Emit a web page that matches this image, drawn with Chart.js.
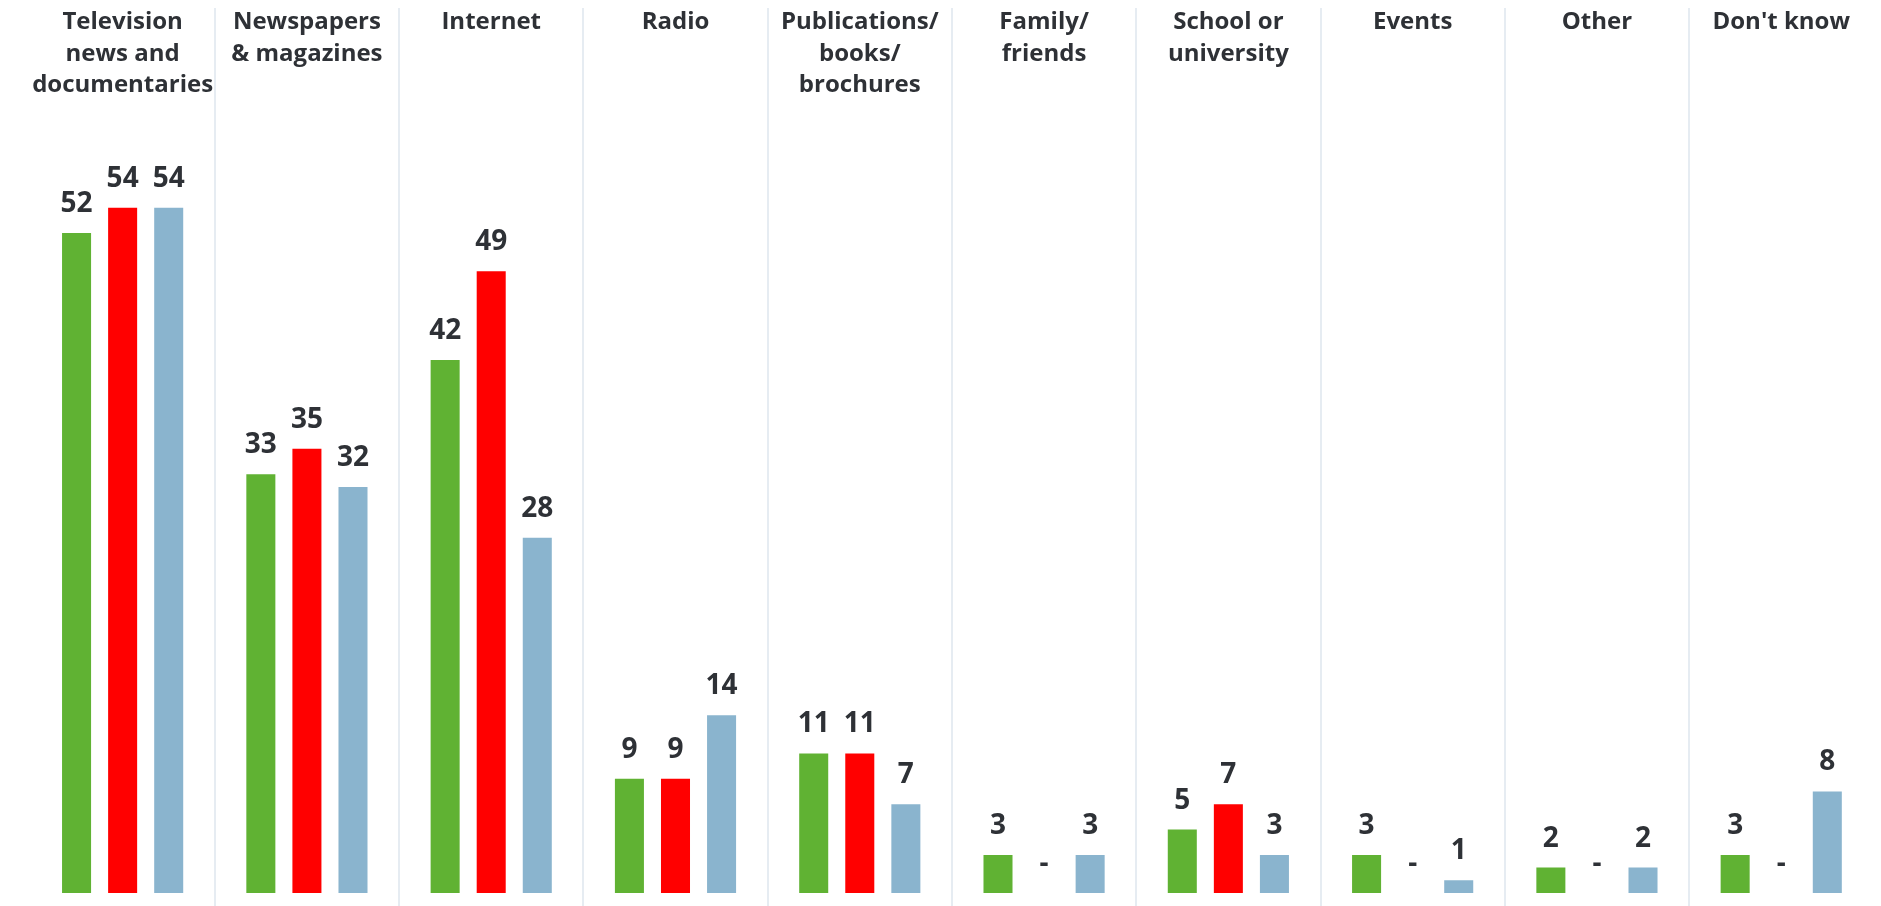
<!DOCTYPE html>
<html>
<head>
<meta charset="utf-8">
<script src="https://cdn.jsdelivr.net/npm/chart.js@4.4.1/dist/chart.umd.min.js"></script>
<style>
html,body{margin:0;padding:0;background:#ffffff;}
#wrap{width:1881px;height:906px;position:relative;}
</style>
</head>
<body>
<div id="wrap"><canvas id="c"></canvas></div>
<script>
const categories = [
  ["Television", "news and", "documentaries"],
  ["Newspapers", "& magazines"],
  ["Internet"],
  ["Radio"],
  ["Publications/", "books/", "brochures"],
  ["Family/", "friends"],
  ["School or", "university"],
  ["Events"],
  ["Other"],
  ["Don't know"]
];
const seriesNames = ["Series 1", "Series 2", "Series 3"];
const greenValues = [52, 33, 42, 9, 11, 3, 5, 3, 2, 3];
const redValues   = [54, 35, 49, 9, 11, null, 7, null, null, null];
const blueValues  = [54, 32, 28, 14, 7, 3, 3, 1, 2, 8];
const missingLabel = "-";

const TEXT_COLOR = "#2e3136";
const FONT = "'Open Sans', 'Liberation Sans', sans-serif";

const separatorPlugin = {
  id: "separators",
  beforeDatasetsDraw(chart) {
    const xs = chart.scales.x;
    const ctx = chart.ctx;
    ctx.save();
    ctx.strokeStyle = "#e6ecf2";
    ctx.lineWidth = 2;
    for (let i = 0; i < categories.length - 1; i++) {
      const px = Math.round((xs.getPixelForValue(i) + xs.getPixelForValue(i + 1)) / 2);
      ctx.beginPath();
      ctx.moveTo(px, 8);
      ctx.lineTo(px, chart.height);
      ctx.stroke();
    }
    ctx.restore();
  }
};

const valueLabelPlugin = {
  id: "valueLabels",
  afterDatasetsDraw(chart) {
    const ctx = chart.ctx;
    const ys = chart.scales.y;
    ctx.save();
    ctx.font = "bold 28px " + FONT;
    ctx.fillStyle = TEXT_COLOR;
    ctx.textAlign = "center";
    ctx.textBaseline = "alphabetic";
    chart.data.datasets.forEach((ds, di) => {
      const meta = chart.getDatasetMeta(di);
      meta.data.forEach((bar, i) => {
        const v = ds.data[i];
        const top = (v === null || v === undefined) ? ys.getPixelForValue(0) : bar.y;
        const txt = (v === null || v === undefined) ? missingLabel : String(v);
        ctx.fillText(txt, bar.x, top - 21);
      });
    });
    ctx.restore();
  }
};

new Chart(document.getElementById("c"), {
  type: "bar",
  data: {
    labels: categories,
    datasets: [
      { label: seriesNames[0], data: greenValues, backgroundColor: "#60b233" },
      { label: seriesNames[1], data: redValues, backgroundColor: "#ff0000" },
      { label: seriesNames[2], data: blueValues, backgroundColor: "#8ab4ce" }
    ]
  },
  options: {
    responsive: true,
    maintainAspectRatio: false,
    animation: false,
    categoryPercentage: 0.75,
    barPercentage: 0.63,
    layout: { padding: { left: 27, right: 4, top: -24, bottom: 13 } },
    plugins: {
      legend: { display: false },
      tooltip: { enabled: false }
    },
    scales: {
      x: {
        position: "top",
        offset: true,
        grid: { display: false, drawTicks: false },
        border: { display: false },
        ticks: {
          autoSkip: false,
          maxRotation: 0,
          minRotation: 0,
          crossAlign: "far",
          padding: 31,
          color: TEXT_COLOR,
          font: { family: FONT, size: 24, weight: "bold", lineHeight: 1.3 }
        }
      },
      y: {
        display: false,
        min: 0,
        max: 60
      }
    }
  },
  plugins: [separatorPlugin, valueLabelPlugin]
});
</script>
</body>
</html>
